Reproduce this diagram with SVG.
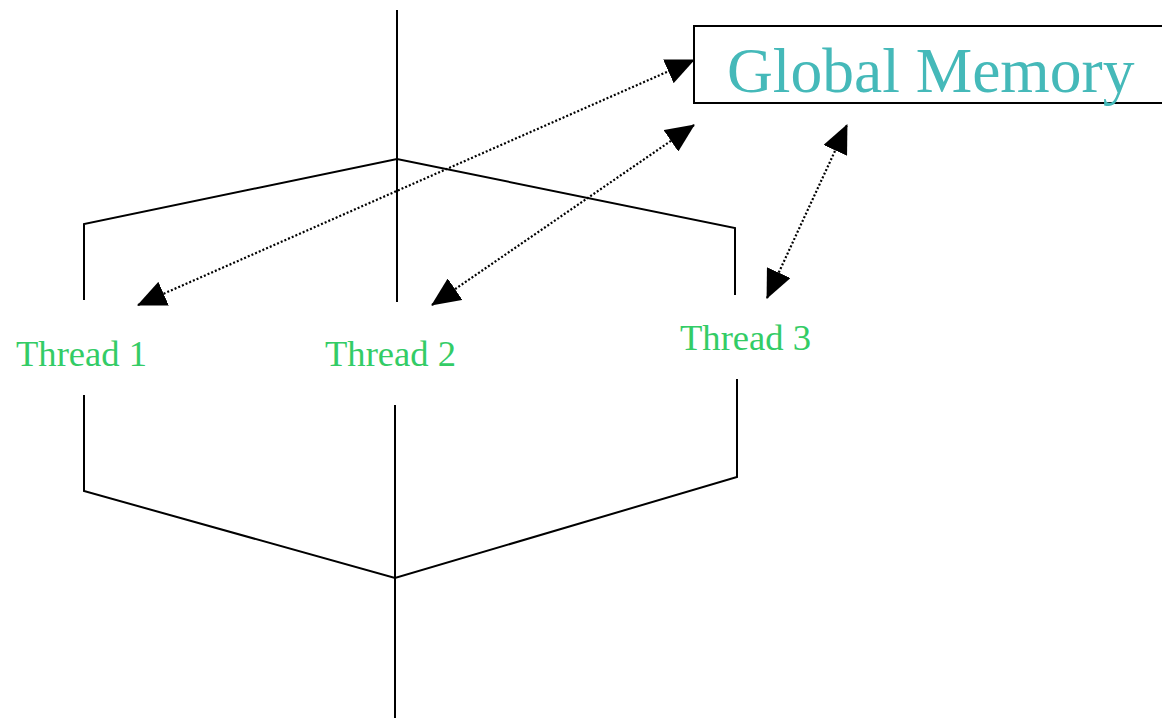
<svg xmlns="http://www.w3.org/2000/svg" width="1162" height="718" viewBox="0 0 1162 718">
<style>
.ln{fill:none;stroke:#000;stroke-width:2}
.dt{fill:none;stroke:#000;stroke-width:2.2;stroke-dasharray:2,2;marker-start:url(#ah);marker-end:url(#ah)}
.th{font-family:"Liberation Serif",serif;font-size:36.6px;fill:#33CC66}
.gm{font-family:"Liberation Serif",serif;font-size:63.5px;fill:#45B9B9}
</style>
<defs>
<marker id="ah" markerUnits="userSpaceOnUse" markerWidth="29" markerHeight="26" refX="28" refY="13" orient="auto-start-reverse" viewBox="0 0 29 26">
<path d="M0,0 L29,13 L0,26 z" fill="#000"/>
</marker>
</defs>
<rect width="1162" height="718" fill="#fff"/>
<g id="fork">
<path class="ln" d="M397,10 V302"/>
<path class="ln" d="M84,300 V224 L397,159 L735,228 V295"/>
</g>
<g id="join">
<path class="ln" d="M84,395 V491 L395,578 L737,477 V379"/>
<path class="ln" d="M395,405 V718"/>
</g>
<g id="global-memory">
<rect x="694" y="26" width="480" height="77" fill="#fff" stroke="#000" stroke-width="2"/>
<text class="gm" x="727" y="92">Global Memory</text>
</g>
<g id="thread1"><text class="th" x="16" y="366">Thread 1</text></g>
<g id="thread2"><text class="th" x="325" y="366">Thread 2</text></g>
<g id="thread3"><text class="th" x="680" y="350">Thread 3</text></g>
<g id="connectors">
<path class="dt" d="M138,305 L694,60"/>
<path class="dt" d="M432,305 L694,125"/>
<path class="dt" d="M767,298 L847,125"/>
</g>
</svg>
